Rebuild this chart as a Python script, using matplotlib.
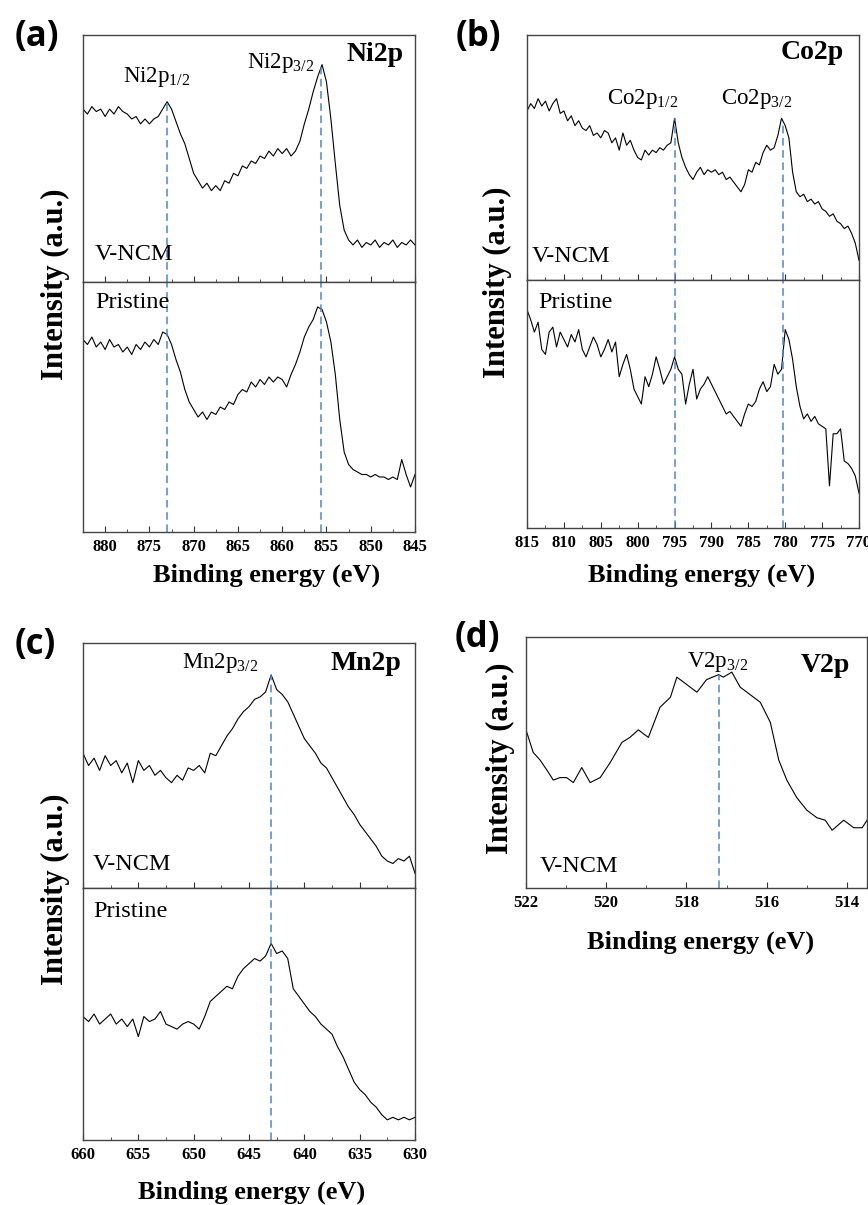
import numpy as np
import matplotlib
matplotlib.use('Agg')
import matplotlib.pyplot as plt
from matplotlib.ticker import MultipleLocator

plt.rcParams['font.family'] = ['Liberation Serif', 'DejaVu Serif']
plt.rcParams['mathtext.fontset'] = 'custom'
plt.rcParams['mathtext.rm'] = 'Liberation Serif'

# ---- data (intensity in a.u.) ----
ni_x = np.arange(882.5, 844.9, -0.5)
ni_vncm = [70, 68, 71, 69, 70, 67, 70, 68, 71, 69,
           68, 66, 67, 64, 66, 64, 66, 67, 70, 73,
           70, 65, 60, 56, 50, 44, 41, 38, 40, 37,
           39, 37, 41, 40, 44, 43, 47, 46, 49, 48,
           51, 50, 53, 51, 54, 52, 54, 51, 53, 57,
           64, 70, 77, 83, 88, 81, 66, 48, 31, 21,
           17, 15, 17, 14, 16, 15, 17, 14, 16, 15,
           17, 14, 16, 15, 17, 15]
ni_pristine = [77, 75, 78, 74, 76, 73, 77, 74, 75, 72,
               74, 71, 75, 73, 76, 74, 77, 75, 80, 79,
               75, 69, 64, 57, 52, 49, 46, 48, 45, 48,
               47, 50, 49, 52, 51, 55, 57, 56, 60, 58,
               61, 59, 62, 60, 62, 61, 58, 63, 67, 72,
               78, 82, 85, 90, 89, 84, 76, 63, 45, 32,
               27, 25, 24, 23, 23, 22, 23, 22, 22, 21,
               22, 21, 29, 23, 18, 23]
ni_peaks = [873.0, 855.6]

co_x = np.arange(815, 769.9, -0.5)
co_vncm = [69, 72, 70, 74, 71, 73, 69, 72, 74, 68,
           69, 65, 67, 63, 65, 62, 61, 63, 59, 60,
           58, 61, 60, 56, 58, 53, 60, 55, 57, 53,
           50, 49, 53, 51, 53, 52, 54, 53, 55, 56,
           66, 56, 50, 46, 43, 41, 44, 46, 43, 45,
           44, 45, 43, 44, 41, 42, 40, 38, 36, 39,
           45, 44, 48, 47, 52, 55, 53, 54, 59, 66,
           63, 58, 44, 36, 34, 35, 32, 33, 31, 32,
           29, 28, 26, 27, 24, 23, 21, 22, 19, 15,
           8]
co_pristine = [88, 84, 79, 83, 72, 70, 79, 81, 73, 79,
               76, 73, 78, 75, 80, 72, 69, 73, 77, 74,
               69, 72, 76, 71, 75, 61, 66, 70, 64, 56,
               53, 50, 61, 57, 62, 69, 64, 58, 61, 64,
               69, 64, 62, 50, 58, 64, 52, 56, 58, 61,
               58, 55, 52, 49, 46, 47, 45, 43, 41, 46,
               50, 49, 51, 56, 59, 55, 57, 66, 62, 64,
               80, 76, 68, 57, 49, 44, 46, 43, 45, 42,
               41, 40, 17, 38, 38, 40, 27, 26, 24, 21,
               14]
co_peaks = [795.0, 780.3]

mn_x = np.arange(660, 629.9, -0.5)
mn_vncm = [55, 50, 53, 48, 54, 50, 52, 47, 51, 43,
           52, 48, 50, 46, 48, 45, 43, 46, 44, 49,
           48, 50, 47, 55, 54, 58, 62, 65, 69, 72,
           74, 77, 78, 80, 87, 81, 79, 76, 71, 66,
           61, 58, 55, 51, 49, 45, 41, 37, 33, 30,
           26, 23, 20, 17, 13, 11, 10, 12, 11, 13,
           6]
mn_pristine = [49, 47, 50, 46, 48, 50, 46, 48, 45, 48,
               41, 49, 47, 48, 51, 46, 45, 44, 46, 47,
               46, 44, 49, 55, 57, 59, 61, 60, 65, 68,
               70, 72, 71, 73, 78, 74, 75, 72, 60, 57,
               54, 51, 49, 46, 44, 42, 37, 33, 28, 23,
               20, 18, 15, 13, 10, 8, 9, 8, 9, 8,
               9]
mn_peaks = [643.0]

v_x = [522.0, 521.82, 521.65, 521.48, 521.32, 521.15, 520.99, 520.82, 520.61,
       520.4, 520.15, 519.9, 519.61, 519.41, 519.2, 518.95, 518.66, 518.4,
       518.24, 518.07, 517.74, 517.5, 517.2, 517.08, 516.87, 516.66, 516.41,
       516.16, 515.91, 515.7, 515.5, 515.25, 515.0, 514.75, 514.54, 514.37,
       514.08, 513.83, 513.62, 513.5]
v_vncm = [63, 54, 51, 47, 43, 44, 44, 42, 48, 42, 44, 50, 58, 60, 63, 60, 72,
          76, 84, 82, 78, 83, 85, 84, 86, 80, 77, 74, 66, 51, 43, 36, 31, 28,
          27, 23, 27, 24, 24, 27]
v_peaks = [517.2]

W, H = 868, 1205
DASH = '#4f86c6'


def box(l, t, r, b):
    return [l / W, 1 - b / H, (r - l) / W, (b - t) / H]


def spectrum(ax, x, y, xlim, major, minor, labels=True):
    ax.plot(x, y, color='black', lw=0.8)
    ax.set_xlim(*xlim)
    ax.set_ylim(0, 100)
    ax.set_yticks([])
    ax.xaxis.set_major_locator(MultipleLocator(major))
    ax.xaxis.set_minor_locator(MultipleLocator(minor))
    ax.tick_params(axis='x', which='both', direction='in', top=False,
                   labelbottom=labels, labelsize=12, pad=5, color='#333333')
    ax.tick_params(axis='x', which='major', length=4)
    ax.tick_params(axis='x', which='minor', length=2.5)
    for t in ax.get_xticklabels():
        t.set_fontweight('bold')
    for s in ax.spines.values():
        s.set_color('#444444')
        s.set_linewidth(1.0)


def peaks(ax, xs, x=None, y=None):
    # upper panel: dashed line runs from the curve down; lower panel: full height
    for p in xs:
        top = 100 if x is None else np.interp(p, np.asarray(x)[::-1], np.asarray(y)[::-1])
        ax.vlines(p, 0, top, color=DASH, lw=1.1, ls=(0, (5, 3)))


def label(ax, xf, yf, s, size, ha='center', bold=False):
    ax.text(xf, yf, s, transform=ax.transAxes, ha=ha, va='center', fontsize=size,
            fontweight='bold' if bold else 'normal')


fig = plt.figure(figsize=(8.68, 12.05), dpi=100)

# (a) Ni2p
a1 = fig.add_axes(box(83, 35, 415, 282))
a2 = fig.add_axes(box(83, 282, 415, 532))
spectrum(a1, ni_x, ni_vncm, (882.5, 845), 5, 2.5, labels=False)
spectrum(a2, ni_x, ni_pristine, (882.5, 845), 5, 2.5)
peaks(a1, ni_peaks, ni_x, ni_vncm); peaks(a2, ni_peaks)
label(a1, 0.88, 0.92, 'Ni2p', 20, bold=True)
label(a1, 0.223, 0.83, r'Ni2p$_{\mathrm{1/2}}$', 16.5)
label(a1, 0.596, 0.885, r'Ni2p$_{\mathrm{3/2}}$', 16.5)
label(a1, 0.036, 0.113, 'V-NCM', 17.5, ha='left')
label(a2, 0.036, 0.916, 'Pristine', 17.5, ha='left')

# (b) Co2p
b1 = fig.add_axes(box(527, 35, 859, 280))
b2 = fig.add_axes(box(527, 280, 859, 528))
spectrum(b1, co_x, co_vncm, (815, 770), 5, 2.5, labels=False)
spectrum(b2, co_x, co_pristine, (815, 770), 5, 2.5)
peaks(b1, co_peaks, co_x, co_vncm); peaks(b2, co_peaks)
label(b1, 0.858, 0.927, 'Co2p', 20, bold=True)
label(b1, 0.347, 0.74, r'Co2p$_{\mathrm{1/2}}$', 16.5)
label(b1, 0.693, 0.74, r'Co2p$_{\mathrm{3/2}}$', 16.5)
label(b1, 0.015, 0.094, 'V-NCM', 17.5, ha='left')
label(b2, 0.033, 0.911, 'Pristine', 17.5, ha='left')

# (c) Mn2p
c1 = fig.add_axes(box(83, 643, 415, 888))
c2 = fig.add_axes(box(83, 888, 415, 1140))
spectrum(c1, mn_x, mn_vncm, (660, 630), 5, 2.5, labels=False)
spectrum(c2, mn_x, mn_pristine, (660, 630), 5, 2.5)
peaks(c1, mn_peaks, mn_x, mn_vncm); peaks(c2, mn_peaks)
label(c1, 0.852, 0.918, 'Mn2p', 20, bold=True)
label(c1, 0.413, 0.918, r'Mn2p$_{\mathrm{3/2}}$', 16.5)
label(c1, 0.03, 0.094, 'V-NCM', 17.5, ha='left')
label(c2, 0.03, 0.905, 'Pristine', 17.5, ha='left')

# (d) V2p
d1 = fig.add_axes(box(526, 637, 867, 888))
spectrum(d1, v_x, v_vncm, (522, 513.5), 2, 1)
peaks(d1, v_peaks, v_x, v_vncm)
label(d1, 0.877, 0.888, 'V2p', 20, bold=True)
label(d1, 0.563, 0.9, r'V2p$_{\mathrm{3/2}}$', 16.5)
label(d1, 0.041, 0.084, 'V-NCM', 17.5, ha='left')

# shared axis titles
for (cx, cy) in [(267, 575), (702, 575), (252, 1192), (701, 942)]:
    fig.text(cx / W, 1 - cy / H, 'Binding energy (eV)', ha='center', va='center',
             fontsize=19, fontweight='bold')
for (cx, cy) in [(55, 284), (497, 282), (55, 889), (500, 758)]:
    fig.text(cx / W, 1 - cy / H, 'Intensity (a.u.)', ha='center', va='center',
             fontsize=22, fontweight='bold', rotation=90)

# panel letters
for lab, (cx, cy) in zip(['(a)', '(b)', '(c)', '(d)'],
                         [(37, 37), (478, 37), (35, 645), (477, 638)]):
    fig.text(cx / W, 1 - cy / H, lab, ha='center', va='center', fontsize=25,
             fontweight='bold', family=['Open Sans', 'DejaVu Sans'])

fig.savefig('out.png', dpi=100)
